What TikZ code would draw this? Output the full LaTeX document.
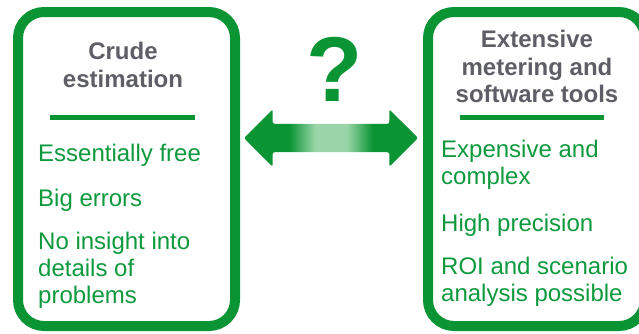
\documentclass[tikz,border=0pt]{standalone}
\usepackage{fontspec}
\setmainfont{Liberation Sans}
\usepackage{xcolor}
\usetikzlibrary{shapes,arrows,positioning}

\definecolor{boxgreen}{HTML}{0A9434}
\definecolor{textgreen}{HTML}{0E993C}
\definecolor{titlegrey}{HTML}{5E5E66}
\definecolor{shaftlight}{HTML}{9AD5A9}

% shading of the double arrow: solid heads, pale middle
\pgfdeclarehorizontalshading{shaftshade}{100bp}{color(0bp)=(boxgreen); color(38bp)=(boxgreen); color(45.5bp)=(shaftlight); color(54.5bp)=(shaftlight); color(62bp)=(boxgreen); color(100bp)=(boxgreen)}

\begin{document}
\begin{tikzpicture}[
    x=1pt, y=-1pt,
    panel/.style={rectangle, draw=boxgreen, line width=10pt, rounded corners=26pt, minimum width=217pt, minimum height=314pt},
    title/.style={align=center, font=\fontsize{24}{27.5}\selectfont\bfseries, text=titlegrey, inner sep=0pt, anchor=north},
    item/.style={align=left, font=\fontsize{24}{27}\selectfont, text=textgreen, inner sep=0pt, anchor=north west},
    rule/.style={draw=boxgreen, line width=5pt},
    both/.style={double arrow, shading=shaftshade, draw=none, inner xsep=0pt, inner ysep=14pt, minimum height=174pt, double arrow head extend=14.5pt, double arrow head indent=0pt, rounded corners=2pt}
]
\useasboundingbox (0,0) rectangle (639,333);

% Left panel
\node[panel] (crude) at (126.5,169) {};
\node[title] (crudetitle) at (123,42) {Crude\\estimation};
\draw[rule] (50,117) -- (195,117);
\node[item] (free) at (38,144) {Essentially free};
\node[item] (errors) at (38,189) {Big errors};
\node[item] (insight) at (38,232) {No insight into\\details of\\problems};

% Right panel
\node[panel] (tools) at (536.5,169) {};
\node[title] (toolstitle) at (537,30) {Extensive\\metering and\\software tools};
\draw[rule] (460,117) -- (604,117);
\node[item] (expensive) at (441,140) {Expensive and\\complex};
\node[item] (precision) at (441,214) {High precision};
\node[item] (roi) at (441,257) {ROI and scenario\\analysis possible};

% Question between the panels
\node[both] (link) at (331,138) {};
\node[font=\fontsize{92}{92}\selectfont\bfseries, text=boxgreen, inner sep=0pt] (query) at (335,69) {?};

\end{tikzpicture}
\end{document}
